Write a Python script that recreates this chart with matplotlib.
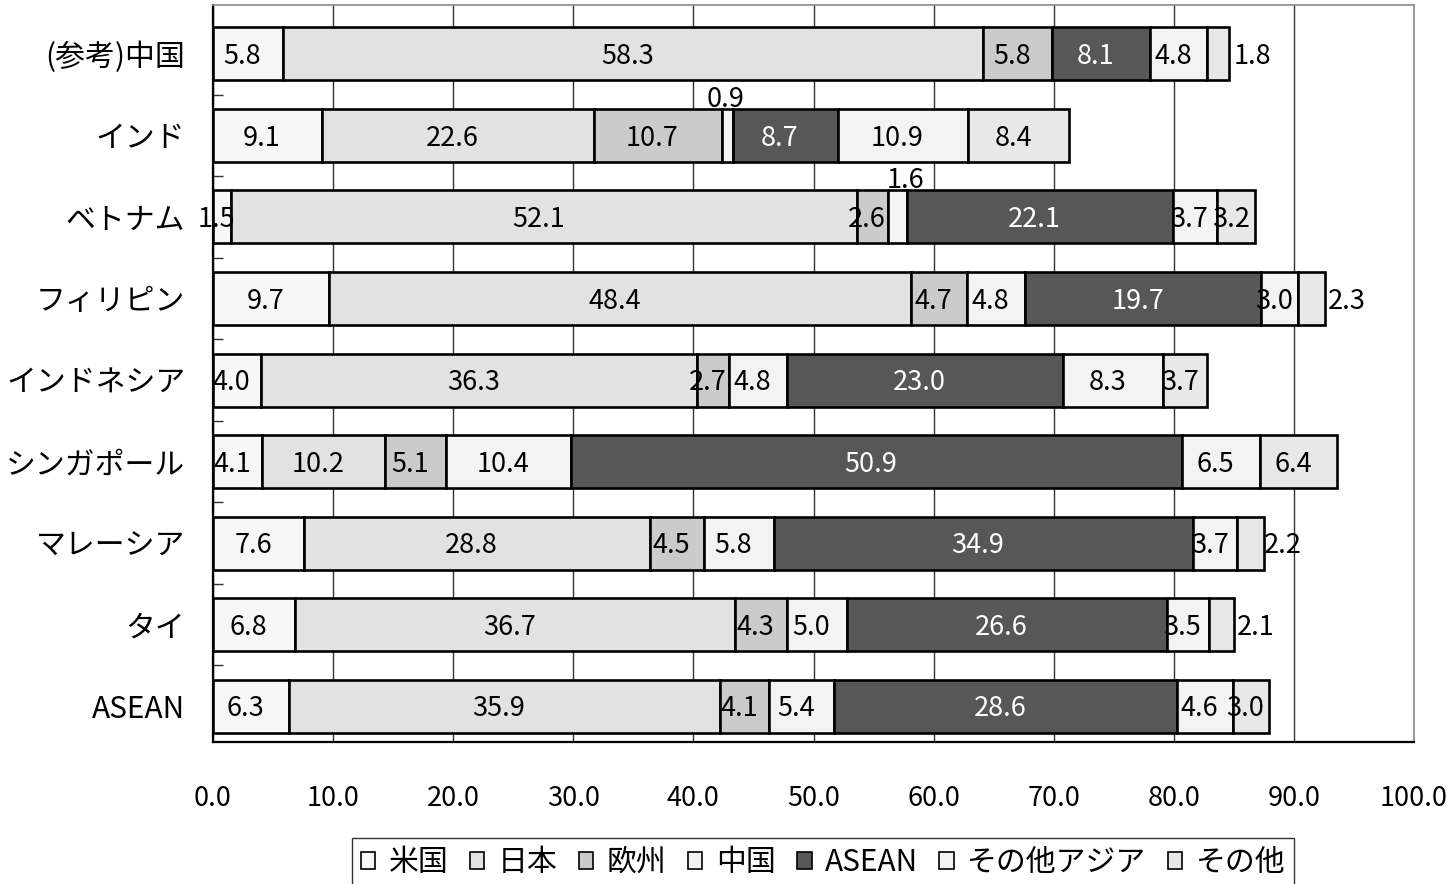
import matplotlib
matplotlib.use("Agg")
import matplotlib.pyplot as plt
import numpy as np

plt.rcParams['font.family'] = ['Noto Sans CJK JP', 'DejaVu Sans']

categories = ['(参考)中国', 'インド', 'ベトナム', 'フィリピン', 'インドネシア',
              'シンガポール', 'マレーシア', 'タイ', 'ASEAN']
series_names = ['米国', '日本', '欧州', '中国', 'ASEAN', 'その他アジア', 'その他']

us       = [5.8, 9.1, 1.5, 9.7, 4.0, 4.1, 7.6, 6.8, 6.3]
japan    = [58.3, 22.6, 52.1, 48.4, 36.3, 10.2, 28.8, 36.7, 35.9]
europe   = [5.8, 10.7, 2.6, 4.7, 2.7, 5.1, 4.5, 4.3, 4.1]
china    = [0.0, 0.9, 1.6, 4.8, 4.8, 10.4, 5.8, 5.0, 5.4]
asean    = [8.1, 8.7, 22.1, 19.7, 23.0, 50.9, 34.9, 26.6, 28.6]
oth_asia = [4.8, 10.9, 3.7, 3.0, 8.3, 6.5, 3.7, 3.5, 4.6]
others   = [1.8, 8.4, 3.2, 2.3, 3.7, 6.4, 2.2, 2.1, 3.0]
x_ticks = [0, 10, 20, 30, 40, 50, 60, 70, 80, 90, 100]

series = [us, japan, europe, china, asean, oth_asia, others]

# styles
face = ['#f7f7f7', '#e2e2e2', '#cbcbcb', '#f3f3f3', '#575757', '#f3f3f3', '#e8e8e8']
text_col = ['black', 'black', 'black', 'black', 'white', 'black', 'black']
# label placement adjustments: (category index, series index) -> (dx data, dy data)
label_adjust = {
    (1, 3): (0.3, 0.48),
    (2, 3): (1.1, 0.48),
    (0, 6): (3.3, 0.0),
    (3, 6): (3.4, 0.0),
    (6, 6): (3.1, 0.0),
    (7, 6): (3.3, 0.0),
}

fig = plt.figure(figsize=(14.46, 8.84), dpi=100)
ax = fig.add_axes([213/1446, 1 - 742/884, (1414 - 213)/1446, (742 - 5)/884])

n = len(categories)
ypos = np.arange(n)[::-1]  # top category at highest y
bar_h = 0.65
left = np.zeros(n)
for si, vals in enumerate(series):
    vals = np.array(vals)
    ax.barh(ypos, vals, left=left, height=bar_h, color=face[si],
            edgecolor='black', linewidth=1.9, label=series_names[si], zorder=3)
    for ci in range(n):
        v = vals[ci]
        if v <= 0:
            continue
        dx, dy = label_adjust.get((ci, si), (0.0, 0.0))
        ax.annotate(f'{v:.1f}', xy=(left[ci] + v / 2 + dx, ypos[ci] + dy),
                    xytext=(-4, -2), textcoords='offset points',
                    ha='center', va='center', fontsize=19.5, color=text_col[si],
                    zorder=5)
    left = left + vals

ax.set_xlim(0, 100)
ax.set_ylim(-0.44, 8.6)
ax.set_xticks(x_ticks)
ax.set_xticklabels([f'{t:.1f}' for t in x_ticks], fontsize=19.5)
ax.tick_params(axis='x', length=0, pad=31)
ax.set_yticks(ypos)
ax.set_yticklabels(categories, fontsize=21.5)
ax.tick_params(axis='y', which='major', length=0, pad=20)
ax.set_yticks(np.arange(n - 1) + 0.5, minor=True)
ax.tick_params(axis='y', which='minor', direction='in', length=7, width=1, color='#333333')

ax.grid(axis='x', color='#333333', linewidth=1.0, zorder=0)
ax.set_axisbelow(True)
for s in ['left', 'bottom']:
    ax.spines[s].set_color('black')
    ax.spines[s].set_linewidth(1.6)
for s in ['top', 'right']:
    ax.spines[s].set_color('#8a8a8a')
    ax.spines[s].set_linewidth(1.2)

leg = fig.legend(loc='upper center', bbox_to_anchor=(823/1446, 1 - 838/884),
                 ncol=7, fontsize=21.5, frameon=True, fancybox=False,
                 edgecolor='black', handlelength=0.5, handleheight=0.5,
                 handletextpad=0.45, columnspacing=0.7, borderpad=0.3,
                 borderaxespad=0)
leg.get_frame().set_linewidth(1.0)
for h in leg.legend_handles:
    h.set_linewidth(1.2)

fig.savefig('out.png', dpi=100)
